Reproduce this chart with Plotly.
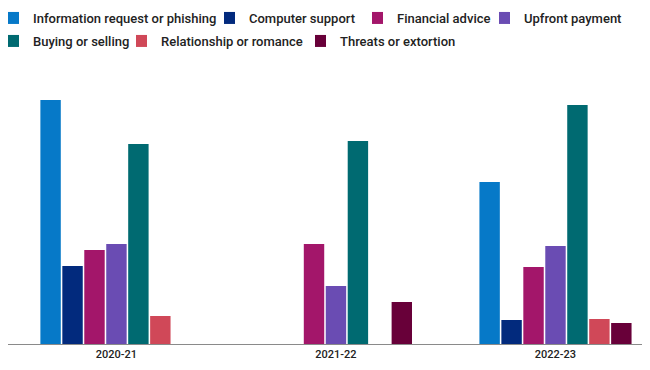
import plotly.graph_objects as go

years = ["2020-21", "2021-22", "2022-23"]

info_request = [24.4, None, 16.2]
computer_support = [7.8, None, 2.4]
financial_advice = [9.4, 10.0, 7.7]
upfront_payment = [10.0, 5.8, 9.8]
buying_selling = [20.0, 20.3, 23.9]
relationship = [2.8, None, 2.5]
threats = [None, 4.2, 2.1]

names = ["Information request or phishing", "Computer support", "Financial advice",
         "Upfront payment", "Buying or selling", "Relationship or romance",
         "Threats or extortion"]
values = [info_request, computer_support, financial_advice, upfront_payment,
          buying_selling, relationship, threats]
colors = ["#0679C8", "#022A7D", "#A3166A", "#6A4CB3", "#006A71", "#D04858", "#680039"]

# legend placement (container px): x of each entry, row centre y
legend_x = [0, 216, 364, 491, 0, 128, 307]
legend_y = [10, 10, 10, 10, 33, 33, 33]

W, H = 650, 370

fig = go.Figure()
layout_legends = {}
for i, (name, vals, color) in enumerate(zip(names, values, colors)):
    lg = "legend" if i == 0 else f"legend{i + 1}"
    fig.add_trace(go.Bar(
        x=years, y=vals, name=name, legend=lg, showlegend=True,
        marker=dict(color=color, line=dict(width=0)),
    ))
    layout_legends[lg] = dict(
        orientation="h", xref="container", yref="container",
        x=legend_x[i] / W, xanchor="left",
        y=1 - legend_y[i] / H, yanchor="middle",
        indentation=-15,
        font=dict(family="Roboto", size=13, color="#222222", weight=500),
        bgcolor="rgba(0,0,0,0)", itemclick=False, itemdoubleclick=False,
    )

fig.update_layout(
    width=W, height=H,
    showlegend=True,
    margin=dict(l=0, r=0, t=82, b=34),
    paper_bgcolor="white", plot_bgcolor="white",
    barmode="group", bargap=0.30, bargroupgap=0.07,
    font=dict(family="Roboto", size=11, color="#222222"),
    xaxis=dict(
        range=[-0.494, 2.467], showgrid=False, zeroline=False,
        showline=True, linecolor="#8a8a8a", linewidth=1,
        ticks="", tickfont=dict(family="Roboto", size=11, color="#222222", weight=500),
        fixedrange=True,
    ),
    yaxis=dict(range=[0, 25.4], visible=False, showgrid=False, fixedrange=True),
    **layout_legends,
)

fig.write_html("out.html")
